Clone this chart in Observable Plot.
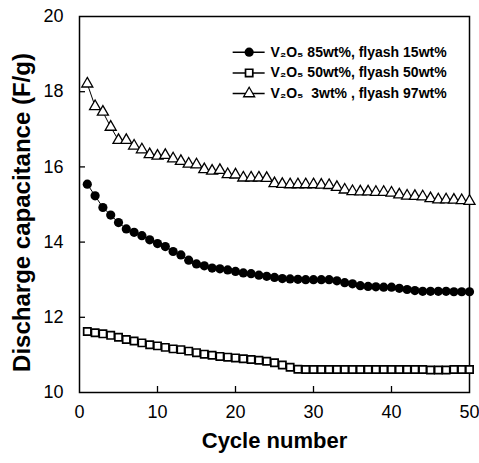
<!DOCTYPE html>
<html><head><meta charset="utf-8">
<script src="https://cdn.jsdelivr.net/npm/d3@7"></script>
<script src="https://cdn.jsdelivr.net/npm/@observablehq/plot@0.6"></script>
<style>body{margin:0;background:#fff}</style>
</head><body><div id="chart"></div>
<script>
const cycles = [1,2,3,4,5,6,7,8,9,10,11,12,13,14,15,16,17,18,19,20,21,22,23,24,25,26,27,28,29,30,31,32,33,34,35,36,37,38,39,40,41,42,43,44,45,46,47,48,49,50];
// V2O5 85wt%, flyash 15wt%  (filled circles)
const cap85 = [15.54,15.23,14.92,14.72,14.52,14.35,14.26,14.17,14.06,13.96,13.88,13.75,13.66,13.52,13.42,13.37,13.31,13.29,13.26,13.22,13.18,13.16,13.12,13.09,13.06,13.03,13.02,13.01,13.0,13.0,13.0,13.0,12.97,12.92,12.89,12.84,12.82,12.81,12.8,12.8,12.77,12.74,12.71,12.69,12.69,12.69,12.69,12.68,12.68,12.68];
// V2O5 50wt%, flyash 50wt%  (open squares)
const cap50 = [11.62,11.59,11.56,11.52,11.47,11.41,11.37,11.32,11.27,11.24,11.2,11.16,11.14,11.1,11.06,11.02,10.99,10.96,10.94,10.92,10.9,10.88,10.86,10.83,10.79,10.73,10.67,10.62,10.61,10.61,10.61,10.61,10.61,10.61,10.61,10.61,10.61,10.61,10.61,10.61,10.61,10.61,10.61,10.61,10.6,10.6,10.6,10.61,10.61,10.61];
// V2O5 3wt%, flyash 97wt%  (open triangles)
const cap3 = [18.21,17.61,17.46,17.06,16.71,16.71,16.56,16.46,16.33,16.29,16.31,16.22,16.15,16.08,16.06,15.93,15.89,15.91,15.8,15.79,15.71,15.71,15.71,15.7,15.56,15.54,15.53,15.53,15.53,15.53,15.52,15.51,15.46,15.39,15.35,15.34,15.34,15.33,15.33,15.31,15.26,15.23,15.22,15.21,15.16,15.13,15.13,15.12,15.11,15.09];
const seriesNames = ["V\u2082O\u2085 85wt%, flyash 15wt%", "V\u2082O\u2085 50wt%, flyash 50wt%", "V\u2082O\u2085  3wt% , flyash 97wt%"];
const xTicks = [0,10,20,30,40,50];
const yTicks = [10,12,14,16,18,20];

const mk = (vals, name) => cycles.map((c, i) => ({cycle: c, cap: vals[i], series: name}));
const rowsA = mk(cap85, seriesNames[0]);
const rowsB = mk(cap50, seriesNames[1]);
const rowsC = mk(cap3, seriesNames[2]);

// legend layout (in data units of the chart)
const legRows = [
  {name: seriesNames[0], y: 19.05},
  {name: seriesNames[1], y: 18.5},
  {name: seriesNames[2], y: 17.95}
];
const legLineX1 = 19.7, legLineX2 = 23.8, legMarkX = 21.75, legTextX = 24.5;

const font = "'Liberation Sans', Arial, Helvetica, sans-serif";
const chart = Plot.plot({
  width: 479, height: 463,
  marginLeft: 79, marginRight: 10, marginTop: 16, marginBottom: 71,
  style: {fontFamily: font, background: "white", color: "black"},
  x: {domain: [0, 50]},
  y: {domain: [10, 20]},
  marks: [
    Plot.frame({stroke: "black", strokeWidth: 1.5}),
    Plot.axisX({ticks: xTicks.slice(1, -1), tickSize: 6, dy: -6, text: null, label: null, strokeWidth: 1.3}),
    Plot.axisY({ticks: yTicks.slice(1, -1), tickSize: 6, dx: 6, text: null, label: null, strokeWidth: 1.3}),
    Plot.axisX({ticks: xTicks, tickSize: 0, tickPadding: 13, fontSize: 18, label: null}),
    Plot.axisY({ticks: yTicks, tickSize: 0, tickPadding: 16, fontSize: 18, label: null}),
    Plot.text(["Cycle number"], {frameAnchor: "bottom", dy: 48, lineAnchor: "middle", textAnchor: "middle", fontSize: 22, fontWeight: "bold"}),
    Plot.text(["Discharge capacitance (F/g)"], {frameAnchor: "left", dx: -57, dy: 8, rotate: -90, textAnchor: "middle", lineAnchor: "middle", fontSize: 24, fontWeight: "bold"}),
    Plot.line([...rowsA, ...rowsB, ...rowsC], {x: "cycle", y: "cap", z: "series", stroke: "black", strokeWidth: 1}),
    Plot.dot(rowsB, {x: "cycle", y: "cap", symbol: "square", r: 4.1, fill: "white", stroke: "black", strokeWidth: 1.7}),
    Plot.dot(rowsC, {x: "cycle", y: "cap", symbol: "triangle", r: 4.1, fill: "white", stroke: "black", strokeWidth: 1.3}),
    Plot.dot(rowsA, {x: "cycle", y: "cap", r: 4.6, fill: "black"}),
    // legend
    Plot.ruleY(legRows, {y: "y", x1: legLineX1, x2: legLineX2, stroke: "black", strokeWidth: 1.5}),
    Plot.dot(legRows.slice(0, 1), {x: legMarkX, y: "y", r: 4.6, fill: "black"}),
    Plot.dot(legRows.slice(1, 2), {x: legMarkX, y: "y", symbol: "square", r: 4.1, fill: "white", stroke: "black", strokeWidth: 1.7}),
    Plot.dot(legRows.slice(2, 3), {x: legMarkX, y: "y", symbol: "triangle", r: 4.1, fill: "white", stroke: "black", strokeWidth: 1.3}),
    Plot.text(legRows, {x: legTextX, y: "y", text: "name", textAnchor: "start", fontSize: 14, fontWeight: "bold"})
  ]
});
document.getElementById("chart").appendChild(chart);
</script>
</body></html>
